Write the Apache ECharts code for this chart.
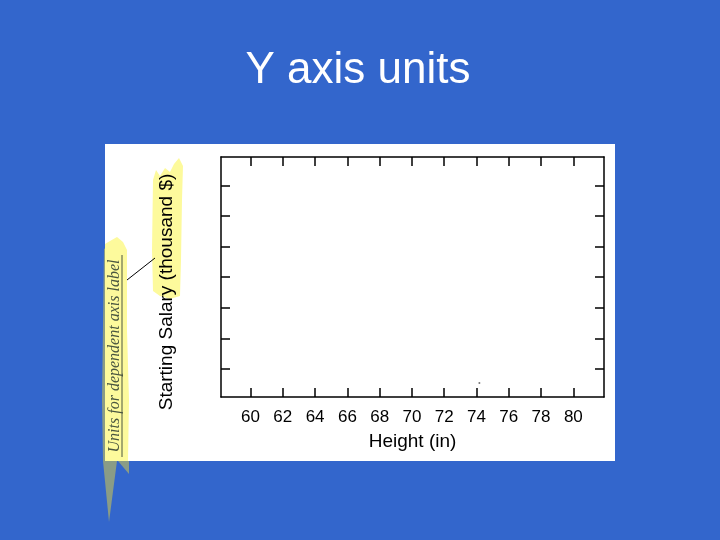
<!DOCTYPE html>
<html>
<head>
<meta charset="utf-8">
<script src="https://cdn.jsdelivr.net/npm/echarts@6/dist/echarts.min.js"></script>
<style>
html,body{margin:0;padding:0;background:#3366cc;}
#c{width:720px;height:540px;}
</style>
</head>
<body>
<div id="c"></div>
<script>
var titleText = 'Y axis units';
var xAxisName = 'Height (in)';
var yAxisName = 'Starting Salary (thousand $)';
var calloutText = 'Units for dependent axis label';
var xTickValues = [60, 62, 64, 66, 68, 70, 72, 74, 76, 78, 80];
var yTickValues = [1, 2, 3, 4, 5, 6, 7];
var xRange = [58.17, 81.9];
var yRange = [0.085, 7.928];
var pointX = [74.18];
var pointY = [0.54];

var chart = echarts.init(document.getElementById('c'), null, {renderer: 'canvas'});
var FONT = '"Liberation Sans", Arial, sans-serif';

function axisCommon(pos, ticks, showLabel, range) {
  return {
    type: 'value',
    position: pos,
    min: range[0],
    max: range[1],
    axisLine: {show: true, onZero: false, lineStyle: {color: '#000', width: 1.5}},
    axisTick: {show: true, inside: true, length: 9, lineStyle: {color: '#000', width: 1.5}, customValues: ticks},
    axisLabel: {show: showLabel, customValues: ticks, color: '#000', fontSize: 17, fontFamily: FONT, margin: 12},
    splitLine: {show: false}
  };
}

var xBottom = axisCommon('bottom', xTickValues, true, xRange);
xBottom.name = xAxisName;
xBottom.nameLocation = 'middle';
xBottom.nameGap = 35;
xBottom.nameTextStyle = {color: '#000', fontSize: 19, fontFamily: FONT};
var xTop = axisCommon('top', xTickValues, false, xRange);
var yLeft = axisCommon('left', yTickValues, false, yRange);
var yRight = axisCommon('right', yTickValues, false, yRange);

var pts = pointX.map(function (x, i) { return [x, pointY[i]]; });

chart.setOption({
  backgroundColor: '#3366cc',
  animation: false,
  grid: {left: 221, top: 157, width: 383, height: 240, containLabel: false},
  xAxis: [xBottom, xTop],
  yAxis: [yLeft, yRight],
  series: [{
    type: 'scatter',
    xAxisIndex: 0, yAxisIndex: 0,
    data: pts,
    symbolSize: 2,
    itemStyle: {color: '#555'},
    silent: true
  }],
  graphic: {
    elements: [
      {type: 'rect', z: -100, shape: {x: 105, y: 144, width: 510, height: 317}, style: {fill: '#ffffff'}},
      {type: 'text', z: 10, style: {text: titleText, x: 358, y: 93, textAlign: 'center', textVerticalAlign: 'bottom', fill: '#ffffff', font: '44px ' + FONT}},
      {type: 'polygon', z: 1, shape: {points: [[104,249],[107,247],[107,461],[117,461],[109,522],[103,461],[102,400]]}, style: {fill: '#8a9c86'}},
      {type: 'polygon', z: 1, shape: {points: [[118,461],[129,461],[129,474]]}, style: {fill: '#8a9c86'}},
      {type: 'polygon', z: 2, shape: {points: [[105,244],[110,241],[117,237],[123,242],[127,250],[127,330],[129,400],[128,461],[105,461]]}, style: {fill: '#fdfa9c'}},
      {type: 'polygon', z: 2, shape: {points: [[153,180],[156,170],[160,176],[165,168],[170,172],[174,164],[179,158],[183,166],[182,200],[181,260],[180,296],[170,299],[160,296],[153,291],[152,250]]}, style: {fill: '#fdfa9c'}},
      {type: 'line', z: 3, shape: {x1: 127, y1: 280, x2: 155, y2: 258}, style: {stroke: '#000', lineWidth: 1}},
      {type: 'text', z: 5, x: 167, y: 292, rotation: Math.PI / 2, style: {text: yAxisName, x: 0, y: 0, textAlign: 'center', textVerticalAlign: 'middle', fill: '#000', font: '19px ' + FONT}},
      {type: 'text', z: 5, x: 115, y: 356, rotation: Math.PI / 2, style: {text: calloutText, x: 0, y: 0, textAlign: 'center', textVerticalAlign: 'middle', fill: '#4a5640', font: 'italic 16px "Liberation Serif", "Times New Roman", serif'}},
      {type: 'line', z: 5, shape: {x1: 122, y1: 255, x2: 122, y2: 457}, style: {stroke: '#4a5640', lineWidth: 1}}
    ]
  }
});
</script>
</body>
</html>
